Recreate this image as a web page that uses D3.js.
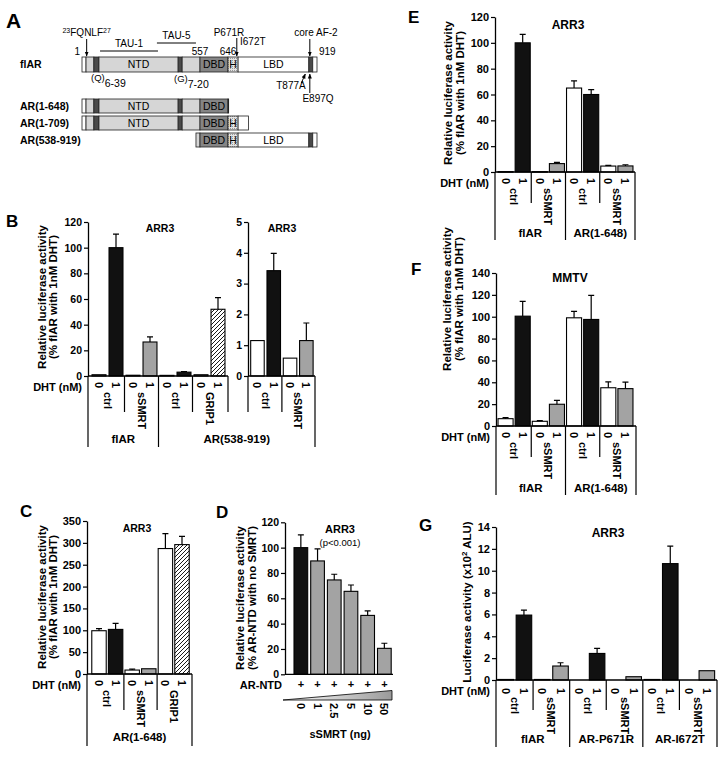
<!DOCTYPE html>
<html>
<head>
<meta charset="utf-8">
<script src="https://cdn.jsdelivr.net/npm/d3@7"></script>
<style>
  body { margin: 0; background: #fff; }
  svg { display: block; }
  text { font-family: "Liberation Sans", Arial, sans-serif; fill: #000; }
</style>
</head>
<body>
<svg id="fig" width="724" height="760"></svg>
<script>
// ---------- data ----------
// panel A: domain map of the constructs
const constructNames = ["flAR", "AR(1-648)", "AR(1-709)", "AR(538-919)"]
const constructStart = [1, 1, 1, 538]
const constructEnd = [919, 648, 709, 919]
const segBreaks = [1, 20, 57, 81, 454, 473, 557, 646, 677, 894, 906, 919]
const segKinds = ["end", "ntd", "stripe", "ntd", "stripe", "ntd", "dbd", "hinge", "lbd", "stripe", "end"]
const segNames = ["", "", "", "NTD", "", "", "DBD", "H", "LBD", "", ""]
const posMarks = [1, 557, 646, 919]
const tauNames = ["TAU-1", "TAU-5"]
const tauStart = [86, 354]
const tauEnd = [359, 538]

// shared
const dhtDoses = ["0", "1"]
const ticks120 = [0, 20, 40, 60, 80, 100, 120]

// panel B
const bLeftValues = [1, 100, 0.6, 26.5, 0.5, 3, 1, 52]
const bLeftErr = [0, 10.5, 0, 4, 0, 0.5, 0, 9]
const bLeftKinds = ["zero", "dht", "zero", "smrt", "zero", "dht", "zero", "grip"]
const bLeftConds = ["ctrl", "sSMRT", "ctrl", "GRIP1"]
const bRightValues = [1.15, 3.42, 0.58, 1.15]
const bRightErr = [0, 0.56, 0, 0.57]
const bRightKinds = ["zero", "dht", "zero", "smrt"]
const bRightConds = ["ctrl", "sSMRT"]
const bRightTicks = [0, 1, 2, 3, 4, 5]

// panel C
const cValues = [99, 102, 9, 12, 287, 296]
const cErr = [5, 14, 2, 0, 34, 19]
const cKinds = ["zero", "dht", "zero", "smrt", "zero", "grip"]
const cConds = ["ctrl", "sSMRT", "GRIP1"]
const cTicks = [0, 50, 100, 150, 200, 250, 300, 350]

// panel D
const dValues = [100, 89.5, 74.5, 65.5, 46.5, 20.5]
const dErr = [10, 9.5, 4.5, 5, 3.5, 4]
const dKinds = ["dht", "smrt", "smrt", "smrt", "smrt", "smrt"]
const dSmrtNg = ["0", "1", "2.5", "5", "10", "50"]

// panel E
const eValues = [0.3, 100, 0.3, 6.5, 65, 60, 4.6, 4.7]
const eErr = [0, 6.5, 0, 0.9, 5.6, 3.7, 0.5, 0.9]
// panel F
const fValues = [6.7, 100.5, 4.3, 19.9, 99, 97.5, 35, 34.2]
const fErr = [0.9, 13.5, 0.6, 3.5, 5.8, 22, 5.3, 6]
const fTicks = [0, 20, 40, 60, 80, 100, 120, 140]
const efKinds = ["zero", "dht", "zero", "smrt", "zero", "dht", "zero", "smrt"]
const efConds = ["ctrl", "sSMRT", "ctrl", "sSMRT"]
const efGroups = ["flAR", "AR(1-648)"]

// panel G
const gValues = [0.05, 5.94, 0.05, 1.28, 0, 2.43, 0, 0.3, 0.05, 10.65, 0, 0.85]
const gErr = [0, 0.45, 0, 0.3, 0, 0.46, 0, 0, 0, 1.6, 0, 0]
const gKinds = ["zero", "dht", "zero", "smrt", "zero", "dht", "zero", "smrt", "zero", "dht", "zero", "smrt"]
const gConds = ["ctrl", "sSMRT", "ctrl", "sSMRT", "ctrl", "sSMRT"]
const gGroups = ["flAR", "AR-P671R", "AR-I672T"]
const gTicks = [0, 2, 4, 6, 8, 10, 12, 14]

const ylabFlar = ["Relative luciferase activity", "(% flAR with 1nM DHT)"]
const ylabNtd = ["Relative luciferase activity", "(% AR-NTD with no SMRT)"]

// ---------- drawing ----------
const svg = d3.select("#fig")
const barFill = { zero: "#fff", dht: "#111", smrt: "#a3a3a3", grip: "url(#hatch)" }
const segFill = { end: "#fff", ntd: "#d6d6d6", stripe: "#4a4a4a", dbd: "#858585", hinge: "url(#dots)", lbd: "#fff" }

const defs = svg.append("defs")
const hatch = defs.append("pattern").attr("id", "hatch")
  .attr("patternUnits", "userSpaceOnUse").attr("width", 4).attr("height", 4)
hatch.append("rect").attr("width", 4).attr("height", 4).attr("fill", "#fff")
hatch.append("path").attr("d", "M-1,1 l2,-2 M0,4 l4,-4 M3,5 l2,-2")
  .attr("stroke", "#000").attr("stroke-width", 0.9)
const dots = defs.append("pattern").attr("id", "dots")
  .attr("patternUnits", "userSpaceOnUse").attr("width", 2).attr("height", 2)
dots.append("rect").attr("width", 2).attr("height", 2).attr("fill", "#e4e4e4")
dots.append("rect").attr("width", 1).attr("height", 1).attr("fill", "#9a9a9a")
defs.append("marker").attr("id", "arr").attr("viewBox", "0 0 10 10")
  .attr("refX", 9).attr("refY", 5).attr("markerWidth", 5).attr("markerHeight", 5)
  .attr("orient", "auto")
  .append("path").attr("d", "M0,1 L10,5 L0,9 Z").attr("fill", "#000")
const grad = defs.append("linearGradient").attr("id", "wedge")
grad.append("stop").attr("offset", "0%").attr("stop-color", "#fff")
grad.append("stop").attr("offset", "100%").attr("stop-color", "#9a9a9a")

const txt = (x, y, s, size, weight, anchor) =>
  svg.append("text").attr("x", x).attr("y", y)
    .attr("text-anchor", anchor || "start")
    .style("font-size", size + "px")
    .style("font-weight", weight || "normal")
    .text(s)

// panel letters
txt(6, 28, "A", 21, "bold")
txt(6, 227, "B", 17, "bold")
txt(20, 517, "C", 17, "bold")
txt(216, 518, "D", 17, "bold")
txt(408, 23, "E", 17, "bold")
txt(411, 275, "F", 17, "bold")
txt(419, 531, "G", 17, "bold")

// ---------- panel A ----------
const aX = d3.scaleLinear().domain([1, 557, 646, 919]).range([82, 200, 228, 317])
const rowY = [57, 99, 116, 133]
const rowH = [15, 14, 14, 14]

constructNames.forEach((name, r) => {
  const segs = []
  for (let k = 0; k < segKinds.length; k++) {
    const s = Math.max(segBreaks[k], constructStart[r])
    const e = Math.min(segBreaks[k + 1], constructEnd[r])
    if (e > s) segs.push({ s, e, kind: segKinds[k], name: segNames[k] })
  }
  const row = svg.append("g")
  row.selectAll("rect").data(segs).join("rect")
    .attr("x", (d) => aX(d.s))
    .attr("y", rowY[r])
    .attr("width", (d) => aX(d.e) - aX(d.s))
    .attr("height", rowH[r])
    .attr("fill", (d) => segFill[d.kind])
    .attr("stroke", "#222").attr("stroke-width", 0.8)
  row.selectAll("text")
    .data(segs.filter((d) => d.name && aX(d.e) - aX(d.s) > d.name.length * 7))
    .join("text")
    .attr("x", (d) => (aX(d.s) + aX(d.e)) / 2)
    .attr("y", rowY[r] + rowH[r] / 2)
    .attr("dy", "0.36em")
    .attr("text-anchor", "middle")
    .style("font-size", "10.5px")
    .text((d) => d.name)
  txt(20, rowY[r] + rowH[r] / 2, name, 10.5, "bold").attr("dy", "0.36em")
})

posMarks.forEach((p, i) => {
  const anchor = i === 0 ? "end" : i === posMarks.length - 1 ? "start" : "middle"
  const dx = i === 0 ? -2 : i === posMarks.length - 1 ? 2 : 0
  txt(aX(p) + dx, 55, String(p), 10, "normal", anchor)
})
tauNames.forEach((t, i) => {
  const yl = i === 0 ? 51 : 43
  svg.append("line").attr("x1", aX(tauStart[i])).attr("x2", aX(tauEnd[i]))
    .attr("y1", yl).attr("y2", yl).attr("stroke", "#000").attr("stroke-width", 1)
  txt((aX(tauStart[i]) + aX(tauEnd[i])) / 2, yl - 4, t, 10, "normal", "middle")
})

const arrow = (x1, y1, x2, y2) =>
  svg.append("line").attr("x1", x1).attr("y1", y1).attr("x2", x2).attr("y2", y2)
    .attr("stroke", "#000").attr("stroke-width", 1).attr("marker-end", "url(#arr)")

// motif / mutation call-outs
const fq = txt(aX(23), 36, "", 10, "normal", "middle")
fq.append("tspan").attr("baseline-shift", "super").style("font-size", "7px").text("23")
fq.append("tspan").text("FQNLF")
fq.append("tspan").attr("baseline-shift", "super").style("font-size", "7px").text("27")
arrow(aX(23), 39, aX(23), 56)
txt(229, 36, "P671R", 10, "normal", "middle")
txt(240, 45, "I672T", 10)
arrow(aX(673), 38, aX(673), 56)
txt(316, 36, "core AF-2", 10, "normal", "middle")
arrow(aX(897), 39, aX(897), 56)
txt(291, 89, "T877A", 10, "normal", "middle")
arrow(aX(877) - 2, 83, aX(877) + 2, 74)
txt(318, 102, "E897Q", 10, "normal", "middle")
arrow(aX(897), 93, aX(897), 74)
const pq = txt(91, 81, "(Q)", 9.5)
pq.append("tspan").attr("dy", 6).style("font-size", "10.5px").text("6-39")
const pg = txt(174, 82, "(G)", 9.5)
pg.append("tspan").attr("dy", 6).style("font-size", "10.5px").text("7-20")

// ---------- bar panels ----------
function styleAxis(sel, size) {
  sel.attr("font-family", null)
  sel.select(".domain").attr("stroke-width", 1.3)
  sel.selectAll(".tick line").attr("stroke-width", 1.2)
  sel.selectAll(".tick text").style("font-size", size + "px").style("font-weight", "bold")
}

function yLabel(lines, xs, cy, size) {
  return lines.map((t, i) =>
    svg.append("text")
      .attr("transform", `translate(${xs[i]},${cy}) rotate(-90)`)
      .attr("text-anchor", "middle").attr("dy", "0.36em")
      .style("font-size", size + "px").style("font-weight", "bold")
      .text(t))
}

function barPanel(p) {
  const n = p.values.length
  const x = d3.scaleBand().domain(d3.range(n)).range(p.band)
    .paddingInner(p.pad).paddingOuter(p.pad / 2)
  const y = d3.scaleLinear().domain(p.yDomain).range(p.yRange)
  const y0 = y(0)
  const bw = x.bandwidth()
  const gap = x.step() - bw
  const g = svg.append("g")

  const shown = d3.range(n).filter((i) => p.values[i] > 0)
  g.selectAll(".bar").data(shown).join("rect")
    .attr("x", (i) => x(i))
    .attr("y", (i) => y(p.values[i]))
    .attr("width", bw)
    .attr("height", (i) => Math.max(0.6, y0 - y(p.values[i])))
    .attr("fill", (i) => barFill[p.kinds[i]])
    .attr("stroke", "#000").attr("stroke-width", 1.1)

  g.selectAll(".err").data(shown.filter((i) => p.errors[i] > 0)).join("path")
    .attr("d", (i) => {
      const cx = x(i) + bw / 2
      const yt = y(p.values[i])
      const ye = y(p.values[i] + p.errors[i])
      return `M${cx},${yt}V${ye}M${cx - 3},${ye}H${cx + 3}`
    })
    .attr("fill", "none").attr("stroke", "#000").attr("stroke-width", 1.2)

  const ax = g.append("g")
    .attr("transform", `translate(${p.axisX},0)`)
    .call(d3.axisLeft(y).tickValues(p.ticks).tickFormat(d3.format("d"))
      .tickSize(4).tickSizeOuter(0).tickPadding(2))
  styleAxis(ax, p.tickFont)
  g.append("line")
    .attr("x1", p.axisX).attr("x2", p.axisEnd)
    .attr("y1", y0).attr("y2", y0)
    .attr("stroke", "#000").attr("stroke-width", 1.3)

  if (p.title) txt(p.title[1], p.title[2], p.title[0], p.titleFont, "bold", "middle")
  if (p.dhtLabel) txt(p.axisX - 6, y0 + 15, "DHT (nM)", 11, "bold", "end")

  if (p.conds) {
    // dose under every bar
    g.selectAll(".dose").data(d3.range(n)).join("text")
      .attr("transform", (i) => `translate(${x(i) + bw / 2},${y0 + p.doseDy}) rotate(90)`)
      .attr("dy", "0.36em")
      .style("font-size", "11px").style("font-weight", "bold")
      .text((i) => dhtDoses[i % 2])
    g.selectAll(".cond").data(p.conds).join("text")
      .attr("transform", (c, k) => `translate(${x(2 * k + 1) - gap / 2},${y0 + p.condDy}) rotate(90)`)
      .attr("dy", "0.36em")
      .style("font-size", "11px").style("font-weight", "bold")
      .text((c) => c)

    const bx = (b) => (b === 0 ? p.axisX : b === n ? p.axisEnd : x(b) - gap / 2)
    const edges = []
    p.groups.forEach((gr) => edges.push(gr[1], gr[2]))
    for (let b = 0; b <= n; b += 2) {
      const outer = edges.includes(b) && !(p.shortEdges || []).includes(b)
      g.append("line")
        .attr("x1", bx(b)).attr("x2", bx(b))
        .attr("y1", y0).attr("y2", y0 + (outer ? p.outerLen : p.innerLen))
        .attr("stroke", "#000").attr("stroke-width", 1.2)
    }
    p.groups.forEach((gr) => {
      if (gr[0]) txt((bx(gr[1]) + bx(gr[2])) / 2, y0 + p.groupDy, gr[0], 11.5, "bold", "middle")
    })
    return { x, y, y0, bx }
  }
  return { x, y, y0, bw }
}

// panel B (left + right charts share the AR(538-919) group)
const bL = barPanel({
  values: bLeftValues, errors: bLeftErr, kinds: bLeftKinds, conds: bLeftConds,
  groups: [["flAR", 0, 4], ["", 4, 8]], shortEdges: [8],
  band: [90.5, 226.5], pad: 0.18, axisX: 88, axisEnd: 228,
  yDomain: [0, 120], yRange: [376, 222], ticks: ticks120, tickFont: 10.5,
  title: ["ARR3", 160, 232], titleFont: 10.5, dhtLabel: true,
  doseDy: 6, condDy: 16, innerLen: 36, outerLen: 71, groupDy: 67
})
barPanel({
  values: bRightValues, errors: bRightErr, kinds: bRightKinds, conds: bRightConds,
  groups: [["", 0, 4]], shortEdges: [0],
  band: [249.3, 314.5], pad: 0.17, axisX: 248, axisEnd: 315,
  yDomain: [0, 5], yRange: [376, 222], ticks: bRightTicks, tickFont: 10.5,
  title: ["ARR3", 282, 232], titleFont: 10.5,
  doseDy: 6, condDy: 16, innerLen: 36, outerLen: 71, groupDy: 67
})
txt((bL.bx(4) + 315) / 2, 376 + 67, "AR(538-919)", 11.5, "bold", "middle")
yLabel(ylabFlar, [42, 53], 297, 11.5)

// panel C
barPanel({
  values: cValues, errors: cErr, kinds: cKinds, conds: cConds,
  groups: [["AR(1-648)", 0, 6]],
  band: [90.7, 190.3], pad: 0.13, axisX: 87, axisEnd: 192,
  yDomain: [0, 350], yRange: [674, 521], ticks: cTicks, tickFont: 11,
  title: ["ARR3", 137, 532], titleFont: 10.5, dhtLabel: true,
  doseDy: 6, condDy: 16, innerLen: 36, outerLen: 72, groupDy: 67
})
yLabel(ylabFlar, [42, 53], 597, 11.5)

// panel D
const dP = barPanel({
  values: dValues, errors: dErr, kinds: dKinds,
  band: [292.5, 392.7], pad: 0.18, axisX: 285, axisEnd: 393,
  yDomain: [0, 120], yRange: [674.3, 522.3], ticks: ticks120, tickFont: 10.5,
  title: ["ARR3", 340, 533], titleFont: 11
})
txt(340, 546, "(p<0.001)", 9.5, "normal", "middle").attr("fill", "#000")
txt(282, 689, "AR-NTD", 11, "bold", "end")
dSmrtNg.forEach((ng, i) => {
  const cx = dP.x(i) + dP.bw / 2
  txt(cx, 688, "+", 11, "bold", "middle")
  svg.append("text")
    .attr("transform", `translate(${cx},703) rotate(90)`)
    .attr("dy", "0.36em")
    .style("font-size", "11px").style("font-weight", "bold")
    .text(ng)
})
svg.append("path").attr("d", "M283,700 L392,690.5 L392,700 Z")
  .attr("fill", "url(#wedge)").attr("stroke", "#000").attr("stroke-width", 0.8)
txt(340, 738, "sSMRT (ng)", 11, "bold", "middle")
yLabel(ylabNtd, [240, 252], 598, 11.5)

// panel E
barPanel({
  values: eValues, errors: eErr, kinds: efKinds, conds: efConds,
  groups: [[efGroups[0], 0, 4], [efGroups[1], 4, 8]],
  band: [497, 634], pad: 0.12, axisX: 495, axisEnd: 635,
  yDomain: [0, 120], yRange: [172, 17], ticks: ticks120, tickFont: 11,
  title: ["ARR3", 568, 29], titleFont: 12, dhtLabel: true,
  doseDy: 6, condDy: 16, innerLen: 31, outerLen: 68, groupDy: 65
})
yLabel(ylabFlar, [448, 460], 93, 11.5)

// panel F
barPanel({
  values: fValues, errors: fErr, kinds: efKinds, conds: efConds,
  groups: [[efGroups[0], 0, 4], [efGroups[1], 4, 8]],
  band: [497, 634], pad: 0.12, axisX: 496, axisEnd: 636,
  yDomain: [0, 140], yRange: [426, 273], ticks: fTicks, tickFont: 11,
  title: ["MMTV", 570, 282], titleFont: 12, dhtLabel: true,
  doseDy: 6, condDy: 16, innerLen: 31, outerLen: 69, groupDy: 66
})
yLabel(ylabFlar, [447, 459], 299, 11.5)

// panel G
barPanel({
  values: gValues, errors: gErr, kinds: gKinds, conds: gConds,
  groups: [[gGroups[0], 0, 4], [gGroups[1], 4, 8], [gGroups[2], 8, 12]],
  band: [496.5, 716], pad: 0.15, axisX: 496, axisEnd: 717,
  yDomain: [0, 14], yRange: [680, 527], ticks: gTicks, tickFont: 11,
  title: ["ARR3", 608, 537], titleFont: 12, dhtLabel: true,
  doseDy: 8, condDy: 17, innerLen: 30, outerLen: 67, groupDy: 63
})
const gl = yLabel(["Luciferase activity (x10"], [467], 602, 11.5)[0]
gl.append("tspan").attr("baseline-shift", "super").style("font-size", "8px").text("2")
gl.append("tspan").text(" ALU)")
</script>
</body>
</html>
